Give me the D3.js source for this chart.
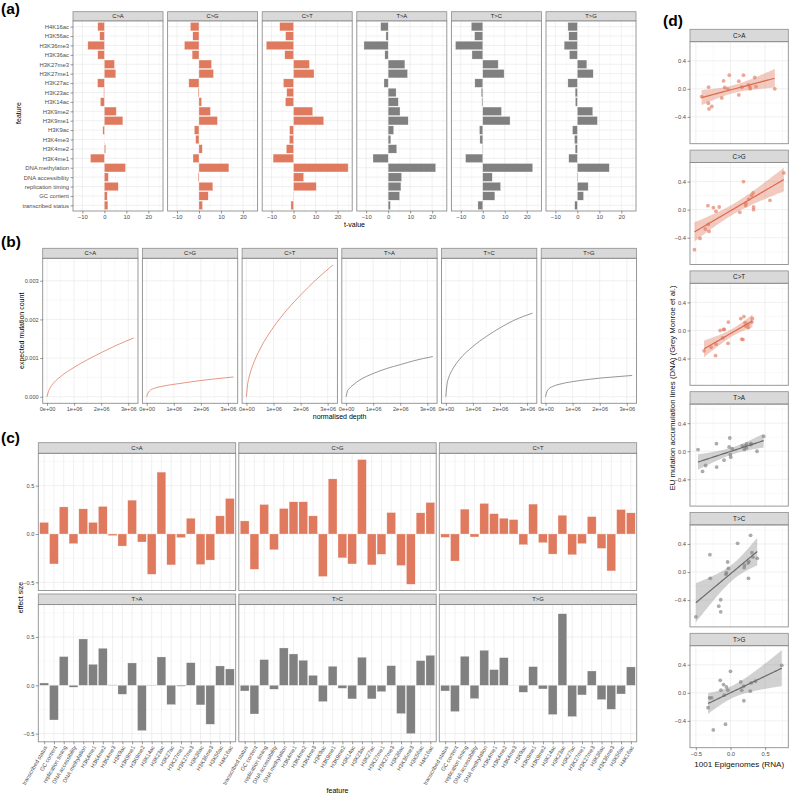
<!DOCTYPE html>
<html><head><meta charset="utf-8">
<script src="https://cdn.jsdelivr.net/npm/d3@7/dist/d3.min.js"></script>
<style>html,body{margin:0;padding:0;background:#fff}</style>
</head><body>
<svg id="fig" width="793" height="797" xmlns="http://www.w3.org/2000/svg"></svg>
<script>
// ================= DATA =================
const features = ["transcribed status","GC content","replication timing","DNA accessibility","DNA methylation",
  "H3K4me1","H3K4me2","H3K4me3","H3K9ac","H3K9me1","H3K9me2","H3K14ac","H3K23ac","H3K27ac",
  "H3K27me1","H3K27me3","H3K36ac","H3K36me3","H3K56ac","H4K16ac"];
const mutationTypes = ["C>A","C>G","C>T","T>A","T>C","T>G"];

// (a) t-values (same order as `features`)
const tValueCA = [1.6, 1.3, 6.3, 1.8, 9.6, -6.3, 0.6, 0.2, -0.7, 8.4, 5.4, -1.8, -0.3, -3.1, 5.2, 4.6, -3.0, -7.5, -2.1, -3.0];
const tValueCG = [1.6, 4.2, 6.3, -0.4, 13.6, -2.7, 1.5, -1.5, -2.1, 8.4, 5.2, 1.2, -0.4, -4.6, 6.6, 5.7, -3.1, -6.6, -2.8, -3.9];
const tValueCT = [-1.2, 0.15, 10.3, 4.6, 24.8, -9.3, -3.3, -1.9, -1.8, 13.7, 8.7, -3.7, -3.1, -4.6, 9.3, 7.2, -4.0, -12.4, -3.6, -6.3];
const tValueTA = [1.0, 5.2, 5.8, 6.1, 21.6, -6.9, 3.9, 1.2, 2.5, 9.1, 5.4, 4.6, 3.6, -1.9, 8.8, 7.6, -1.5, -11.0, -1.0, -3.4];
const tValueTC = [-2.2, 5.5, 8.1, 4.3, 22.7, -7.8, -0.15, -1.3, -1.5, 12.4, 8.5, -0.4, -0.7, -3.6, 9.7, 7.0, -4.9, -12.4, -3.7, -5.2];
const tValueTG = [-1.2, 2.8, 4.9, 0.3, 14.5, -3.9, -1.0, -1.3, -2.2, 9.1, 7.0, -0.9, -1.0, -4.3, 7.2, 4.3, -3.6, -6.0, -3.9, -4.3];

// (b) expected mutation count vs normalised depth
const normalisedDepth = [0, 50000, 100000, 250000, 500000, 1000000, 1500000, 2000000, 2500000, 3200000];
const expectedCA = [0, 0.00013, 0.00021, 0.00036, 0.00052, 0.00076, 0.00096, 0.00114, 0.00131, 0.00152];
const expectedCG = [0, 0.00010, 0.00015, 0.00021, 0.00026, 0.00032, 0.00037, 0.00042, 0.00046, 0.00051];
const expectedCT = [0, 0.00035, 0.00051, 0.00084, 0.00123, 0.00180, 0.00225, 0.00263, 0.00298, 0.00341];
const expectedTA = [0, 0.00015, 0.00020, 0.00030, 0.00043, 0.00060, 0.00073, 0.00083, 0.00093, 0.00104];
const expectedTC = [0, 0.00035, 0.00048, 0.00071, 0.00096, 0.00130, 0.00156, 0.00178, 0.00197, 0.00216];
const expectedTG = [0, 0.00013, 0.00019, 0.00026, 0.00032, 0.00039, 0.00044, 0.00048, 0.00051, 0.00055];

// (c) effect sizes (1001 Epigenomes, RNA), same order as `features`
const effectCA = [0.12, -0.31, 0.28, -0.10, 0.26, 0.12, 0.285, -0.017, -0.125, 0.35, -0.083, -0.417, 0.64, -0.32, -0.038, 0.163, -0.316, -0.27, 0.1875, 0.368];
const effectCG = [0.135, -0.365, 0.305, -0.163, 0.264, 0.333, 0.333, 0.1875, -0.44, 0.57, -0.247, -0.31, 0.77, -0.32, -0.21, 0.222, -0.326, -0.52, 0.219, 0.326];
const effectCT = [-0.035, -0.28, 0.257, -0.031, 0.316, 0.21, 0.163, 0.149, -0.111, 0.309, -0.09, -0.208, 0.194, -0.215, -0.10, 0.18, -0.149, -0.382, 0.253, 0.219];
const effectTA = [0.024, -0.359, 0.297, -0.02, 0.479, 0.217, 0.383, 0.004, -0.093, 0.231, -0.469, -0.003, 0.293, -0.2, -0.01, 0.234, -0.203, -0.403, 0.2, 0.169];
const effectTC = [-0.059, -0.297, 0.266, -0.041, 0.386, 0.324, 0.259, 0.103, -0.169, 0.197, -0.031, -0.141, 0.29, -0.141, -0.066, 0.203, -0.293, -0.5, 0.255, 0.31];
const effectTG = [-0.059, -0.272, 0.3, -0.138, 0.362, 0.162, 0.286, 0.0, -0.072, 0.193, -0.038, -0.303, 0.74, -0.324, -0.1, 0.148, -0.148, -0.248, -0.09, 0.19];

// (d) EU mutation accumulation lines (DNA) effect sizes, same order as `features`
const dnaCA = [0.11, -0.286, 0.029, 0.114, 0.057, -0.086, 0.0, 0.195, -0.129, 0.162, 0.019, -0.11, 0.0, -0.205, -0.005, 0.024, 0.024, -0.252, 0.195, 0.033];
const dnaCG = [-0.038, -0.276, 0.2, 0.038, 0.15, 0.038, 0.0, 0.40, -0.41, 0.133, 0.029, -0.31, 0.524, -0.21, -0.024, 0.09, 0.057, -0.57, 0.057, 0.238];
const dnaCT = [-0.183, -0.24, 0.04, 0.12, 0.17, 0.111, -0.125, 0.169, -0.106, 0.12, 0.014, -0.198, 0.198, -0.36, 0.014, -0.13, 0.0, -0.29, 0.087, 0.063];
const dnaTA = [0.038, -0.203, 0.108, 0.061, 0.212, 0.08, 0.0, -0.085, -0.127, 0.047, 0.024, -0.047, 0.094, -0.226, 0.189, 0.104, 0.108, -0.288, 0.024, 0.075];
const dnaTC = [-0.01, 0.248, 0.152, 0.143, 0.195, 0.214, -0.09, 0.41, -0.486, 0.062, 0.052, -0.395, 0.524, -0.567, -0.033, 0.1, -0.09, -0.638, 0.129, 0.276];
const dnaTG = [0.085, -0.071, 0.142, 0.038, 0.165, 0.038, 0.024, 0.307, -0.448, -0.113, 0.038, -0.071, 0.392, -0.212, 0.118, 0.156, 0.179, -0.528, -0.033, 0.094];

// tick values / labels
const tTicks = [-10, 0, 10, 20];
const depthTicks = [0, 1e6, 2e6, 3e6];
const depthTickLabels = ["0e+00", "1e+06", "2e+06", "3e+06"];
const countTicks = [0, 0.001, 0.002, 0.003];
const countTickLabels = ["0.000", "0.001", "0.002", "0.003"];
const effectTicks = [-0.5, 0, 0.5];
const dnaTicks = [-0.4, 0, 0.4];
const rnaTicks = [-0.5, 0, 0.5];

const tValues = [tValueCA, tValueCG, tValueCT, tValueTA, tValueTC, tValueTG];
const expected = [expectedCA, expectedCG, expectedCT, expectedTA, expectedTC, expectedTG];
const effects = [effectCA, effectCG, effectCT, effectTA, effectTC, effectTG];
const dna = [dnaCA, dnaCG, dnaCT, dnaTA, dnaTC, dnaTG];

// ================= STYLE =================
const FONT = "'Liberation Sans', Arial, Helvetica, sans-serif";
const ORANGE = "#E07A5F", GREY = "#808080";
const LINE_OR = "#DB6B4F", LINE_GR = "#6a6a6a";
const BORDER = "#8e8e8e", STRIP_FILL = "#d9d9d9";
const GRID = "#e6e6e6", GRID_MINOR = "#f1f1f1";
const TICK_TXT = "#4d4d4d";
const colFor = m => m[0] === "C" ? ORANGE : GREY;
const svg = d3.select("#fig");

function txt(x, y, s, fs, o = {}) {
  const t = svg.append("text").attr("x", x).attr("y", y).attr("font-family", FONT)
    .attr("font-size", fs).attr("fill", o.fill || "#000").attr("text-anchor", o.anchor || "middle").text(s);
  if (o.weight) t.attr("font-weight", o.weight);
  if (o.rotate) t.attr("transform", `rotate(${o.rotate},${x},${y})`);
  if (o.dy) t.attr("dy", o.dy);
  return t;
}
function strip(x, y, w, h, label, fs) {
  svg.append("rect").attr("x", x).attr("y", y).attr("width", w).attr("height", h)
    .attr("fill", STRIP_FILL).attr("stroke", BORDER).attr("stroke-width", 0.8);
  txt(x + w / 2, y + h / 2, label, fs, { fill: "#1a1a1a", dy: "0.36em" });
}
function border(g, w, h) {
  g.append("rect").attr("width", w).attr("height", h).attr("fill", "none")
    .attr("stroke", BORDER).attr("stroke-width", 0.9);
}
function vlines(g, sc, vals, h, minor) {
  const [a, b] = sc.range().slice().sort((p, q) => p - q);
  vals.forEach(v => { const X = sc(v); if (X < a || X > b) return;
    g.append("line").attr("x1", X).attr("x2", X).attr("y1", 0).attr("y2", h)
      .attr("stroke", minor ? GRID_MINOR : GRID).attr("stroke-width", minor ? 0.4 : 0.6); });
}
function hlines(g, sc, vals, w, minor) {
  const [a, b] = sc.range().slice().sort((p, q) => p - q);
  vals.forEach(v => { const Y = sc(v); if (Y < a || Y > b) return;
    g.append("line").attr("y1", Y).attr("y2", Y).attr("x1", 0).attr("x2", w)
      .attr("stroke", minor ? GRID_MINOR : GRID).attr("stroke-width", minor ? 0.4 : 0.6); });
}
function styleAxis(sel, fs) {
  sel.select(".domain").remove();
  sel.selectAll(".tick line").attr("stroke", "#333").attr("stroke-width", 0.5);
  sel.selectAll(".tick text").attr("fill", TICK_TXT).attr("font-size", fs).attr("font-family", FONT);
}
function padded(ext, f = 0.05) { const r = ext[1] - ext[0]; return [ext[0] - r * f, ext[1] + r * f]; }
const fmt1 = d3.format(".1f");

// ================= PANEL (a) =================
txt(1, 14, "(a)", 15.5, { anchor: "start", weight: "bold" });
{
  const left = 73, step = 94.6, w = 90, stripTop = 11.7, stripH = 9.3, top = 21, bottom = 211, h = bottom - top;
  const all = tValues.flat();
  const x = d3.scaleLinear().domain(padded([Math.min(0, d3.min(all)), Math.max(0, d3.max(all))])).range([0, w]);
  const y = d3.scaleLinear().domain([0.4, 20.6]).range([h, 0]);
  mutationTypes.forEach((m, k) => {
    const x0 = left + k * step;
    strip(x0, stripTop, w, stripH, m, 5.8);
    const g = svg.append("g").attr("transform", `translate(${x0},${top})`);
    g.append("rect").attr("width", w).attr("height", h).attr("fill", "#fff");
    vlines(g, x, [-15, -5, 5, 15, 25], h, true);
    vlines(g, x, tTicks, h, false);
    hlines(g, y, d3.range(1, 21), w, false);
    g.selectAll("rect.bar").data(tValues[k]).join("rect").attr("class", "bar")
      .attr("x", v => x(Math.min(0, v))).attr("width", v => Math.abs(x(v) - x(0)))
      .attr("y", (v, i) => y(i + 1 + 0.45)).attr("height", (v, i) => y(i + 1 - 0.45) - y(i + 1 + 0.45))
      .attr("fill", colFor(m)).attr("stroke", "#fff").attr("stroke-opacity", 0.7).attr("stroke-width", 0.4);
    border(g, w, h);
    const ax = svg.append("g").attr("transform", `translate(${x0},${bottom})`)
      .call(d3.axisBottom(x).tickValues(tTicks).tickFormat(d3.format("d")).tickSize(2.5).tickPadding(1.5));
    styleAxis(ax, 5.9);
    if (k === 0) {
      const ay = svg.append("g").attr("transform", `translate(${x0},${top})`)
        .call(d3.axisLeft(y).tickValues(d3.range(1, 21)).tickFormat(i => features[i - 1]).tickSize(2.5).tickPadding(1.5));
      styleAxis(ay, 5.9);
    }
  });
  txt(19, 113, "feature", 7, { rotate: -90, dy: "0.35em" });
  txt((left + left + 5 * step + w) / 2, 226.5, "t-value", 7);
}

// ================= PANEL (b) =================
txt(1, 247.4, "(b)", 15.5, { anchor: "start", weight: "bold" });
{
  const left = 42.7, step = 99.7, w = 95.3, stripTop = 248.3, stripH = 10, top = 258.3, bottom = 403.3, h = bottom - top;
  const x = d3.scaleLinear().domain(padded(d3.extent(normalisedDepth))).range([0, w]);
  const y = d3.scaleLinear().domain(padded([0, d3.max(expected.flat())])).range([h, 0]);
  const line = d3.line().x((d, i) => x(normalisedDepth[i])).y(d => y(d)).curve(d3.curveMonotoneX);
  mutationTypes.forEach((m, k) => {
    const x0 = left + k * step;
    strip(x0, stripTop, w, stripH, m, 5.8);
    const g = svg.append("g").attr("transform", `translate(${x0},${top})`);
    vlines(g, x, [5e5, 1.5e6, 2.5e6, 3.5e6], h, true);
    vlines(g, x, depthTicks, h, false);
    hlines(g, y, [0.0005, 0.0015, 0.0025, 0.0035], w, true);
    hlines(g, y, countTicks, w, false);
    g.append("path").attr("d", line(expected[k])).attr("fill", "none")
      .attr("stroke", m[0] === "C" ? LINE_OR : LINE_GR).attr("stroke-width", 0.7);
    border(g, w, h);
    const ax = svg.append("g").attr("transform", `translate(${x0},${bottom})`)
      .call(d3.axisBottom(x).tickValues(depthTicks).tickFormat((d, i) => depthTickLabels[i]).tickSize(2.5).tickPadding(1.5));
    styleAxis(ax, 5.6);
    if (k === 0) {
      const ay = svg.append("g").attr("transform", `translate(${x0},${top})`)
        .call(d3.axisLeft(y).tickValues(countTicks).tickFormat((d, i) => countTickLabels[i]).tickSize(2.5).tickPadding(1.5));
      styleAxis(ay, 5.6);
    }
  });
  txt(22, (top + bottom) / 2, "expected mutation count", 7, { rotate: -90, dy: "0.35em" });
  txt((left + left + 5 * step + w) / 2, 418.5, "normalised depth", 7);
}

// ================= PANEL (c) =================
txt(1, 443.4, "(c)", 15.5, { anchor: "start", weight: "bold" });
{
  const left = 38.3, step = 200.5, w = 197.4, stripH = 10.6, h = 137.2;
  const stripTops = [442.7, 594.0];
  const all = effects.flat();
  const x = d3.scaleLinear().domain([0.4, 20.6]).range([0, w]);
  const y = d3.scaleLinear().domain(padded([Math.min(0, d3.min(all)), Math.max(0, d3.max(all))])).range([h, 0]);
  mutationTypes.forEach((m, k) => {
    const row = Math.floor(k / 3), col = k % 3;
    const x0 = left + col * step, st = stripTops[row], top = st + stripH;
    strip(x0, st, w, stripH, m, 5.8);
    const g = svg.append("g").attr("transform", `translate(${x0},${top})`);
    hlines(g, y, [-0.25, 0.25, 0.75], w, true);
    hlines(g, y, effectTicks, w, false);
    vlines(g, x, d3.range(1, 21), h, false);
    g.selectAll("rect.bar").data(effects[k]).join("rect").attr("class", "bar")
      .attr("x", (v, i) => x(i + 1 - 0.45)).attr("width", (v, i) => x(i + 1 + 0.45) - x(i + 1 - 0.45))
      .attr("y", v => y(Math.max(0, v))).attr("height", v => Math.abs(y(v) - y(0)))
      .attr("fill", colFor(m)).attr("stroke", "#fff").attr("stroke-opacity", 0.7).attr("stroke-width", 0.4);
    border(g, w, h);
    if (col === 0) {
      const ay = svg.append("g").attr("transform", `translate(${x0},${top})`)
        .call(d3.axisLeft(y).tickValues(effectTicks).tickFormat(fmt1).tickSize(2.5).tickPadding(1.5));
      styleAxis(ay, 5.6);
    }
    if (row === 1) {
      const ax = svg.append("g").attr("transform", `translate(${x0},${top + h})`)
        .call(d3.axisBottom(x).tickValues(d3.range(1, 21)).tickFormat(i => features[i - 1]).tickSize(2.5).tickPadding(1.5));
      styleAxis(ax, 5.6);
      ax.selectAll(".tick text").attr("text-anchor", "end").attr("dy", null).attr("x", 0).attr("y", 0)
        .attr("transform", "translate(1.5,4.5) rotate(-60)").attr("dominant-baseline", "middle");
    }
  });
  txt(21, 453.3 + (594 + 10.6 + 137.2 - 453.3) / 2, "effect size", 7, { rotate: -90, dy: "0.35em" });
  txt((left + left + 2 * step + w) / 2, 793, "feature", 7);
}

// ================= PANEL (d) =================
txt(663, 26, "(d)", 15.5, { anchor: "start", weight: "bold" });
{
  const left = 690, w = 98.3, stripTop0 = 29.3, step = 120.8, stripH = 12.4, h = 102;
  // linear fit + 95% confidence band (as geom_smooth(method = "lm"))
  function lmBand(xs, ys, n = 80) {
    const N = xs.length, mx = d3.mean(xs), my = d3.mean(ys);
    let sxx = 0, sxy = 0;
    xs.forEach((v, i) => { sxx += (v - mx) ** 2; sxy += (v - mx) * (ys[i] - my); });
    const b = sxy / sxx, a = my - b * mx;
    let sse = 0; xs.forEach((v, i) => { sse += (ys[i] - a - b * v) ** 2; });
    const s = Math.sqrt(sse / (N - 2)), tq = 2.1009;
    const [lo, hi] = d3.extent(xs);
    return d3.range(n).map(i => { const xv = lo + (hi - lo) * i / (n - 1); const f = a + b * xv;
      const se = s * Math.sqrt(1 / N + (xv - mx) ** 2 / sxx); return { x: xv, f, lo: f - tq * se, hi: f + tq * se }; });
  }
  const bands = effects.map((e, k) => lmBand(e, dna[k]));
  const yVals = dna.flat().concat(bands.flatMap(b => b.flatMap(d => [d.lo, d.hi])));
  const x = d3.scaleLinear().domain(padded(d3.extent(effects.flat()))).range([0, w]);
  const y = d3.scaleLinear().domain(padded(d3.extent(yVals))).range([h, 0]);
  const area = d3.area().x(d => x(d.x)).y0(d => y(d.lo)).y1(d => y(d.hi));
  const fit = d3.line().x(d => x(d.x)).y(d => y(d.f));
  mutationTypes.forEach((m, k) => {
    const st = stripTop0 + k * step, top = st + stripH;
    strip(left, st, w, stripH, m, 6.3);
    const g = svg.append("g").attr("transform", `translate(${left},${top})`);
    vlines(g, x, [-0.25, 0.25, 0.75], h, true);
    vlines(g, x, rnaTicks, h, false);
    hlines(g, y, [-0.6, -0.2, 0.2, 0.6], w, true);
    hlines(g, y, dnaTicks, w, false);
    const c = colFor(m);
    g.append("path").attr("d", area(bands[k])).attr("fill", m[0] === "C" ? ORANGE : "#8c8c8c").attr("fill-opacity", 0.4);
    g.selectAll("circle").data(effects[k]).join("circle")
      .attr("cx", v => x(v)).attr("cy", (v, i) => y(dna[k][i])).attr("r", 1.9)
      .attr("fill", c).attr("fill-opacity", 0.65);
    g.append("path").attr("d", fit(bands[k])).attr("fill", "none")
      .attr("stroke", m[0] === "C" ? LINE_OR : LINE_GR).attr("stroke-width", 1.2);
    border(g, w, h);
    const ay = svg.append("g").attr("transform", `translate(${left},${top})`)
      .call(d3.axisLeft(y).tickValues(dnaTicks).tickFormat(fmt1).tickSize(2.5).tickPadding(1.5));
    styleAxis(ay, 5.8);
    if (k === 5) {
      const ax = svg.append("g").attr("transform", `translate(${left},${top + h})`)
        .call(d3.axisBottom(x).tickValues(rnaTicks).tickFormat(fmt1).tickSize(2.5).tickPadding(1.5));
      styleAxis(ax, 5.8);
      txt(left + w / 2, top + h + 19, "1001 Epigenomes (RNA)", 8.1, { fill: "#111" });
    }
  });
  txt(672, 388, "EU mutation accumulation lines (DNA) (Grey Monroe et al.)", 7.8, { rotate: -90, dy: "0.35em", fill: "#111" });
}
</script>
</body></html>
